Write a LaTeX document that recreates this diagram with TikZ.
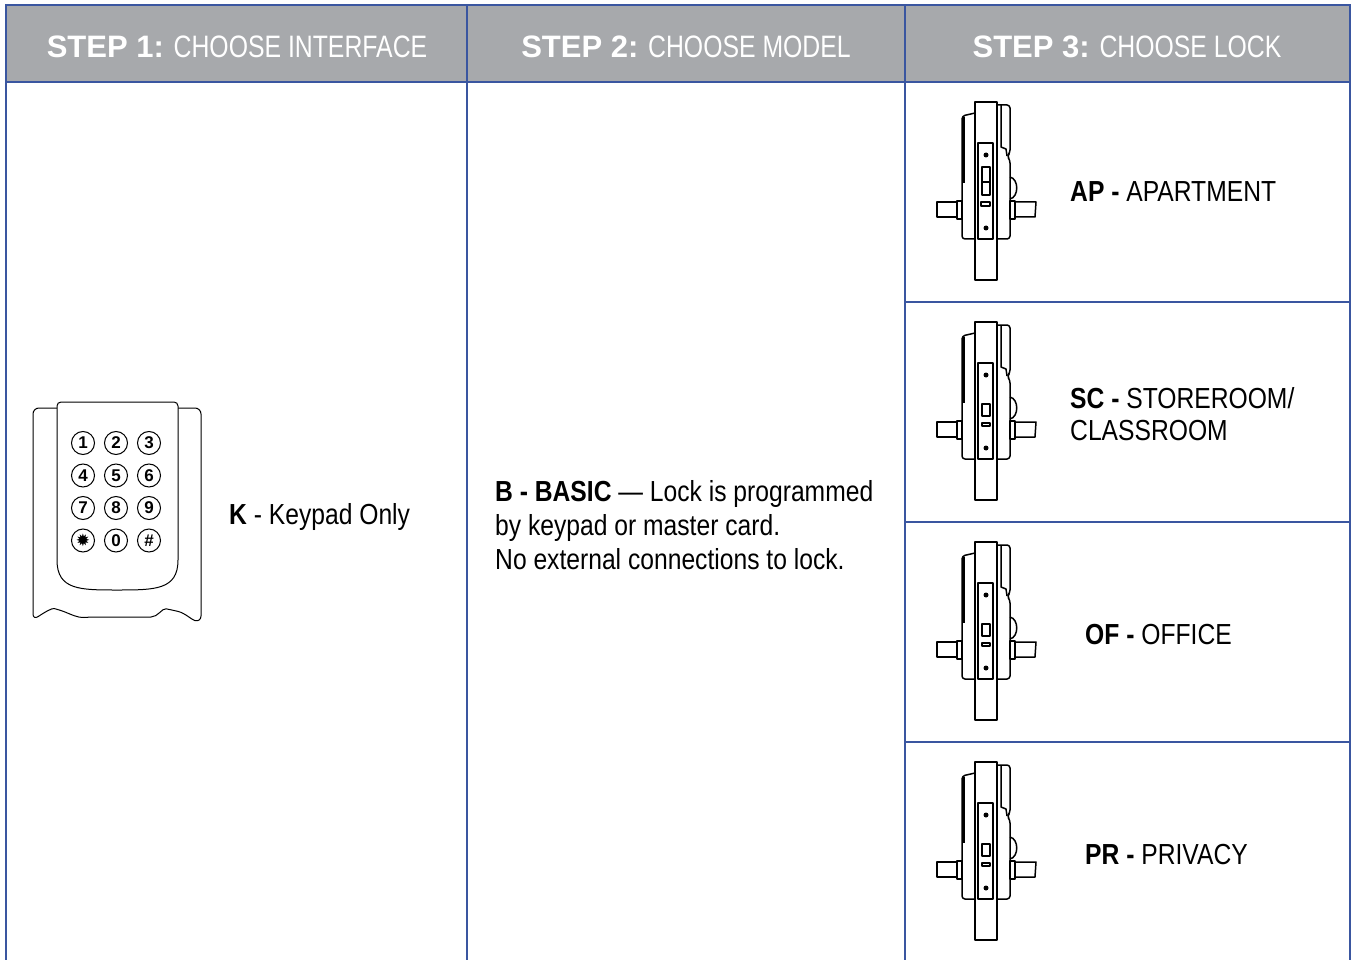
\documentclass[tikz,border=0pt]{standalone}
\usepackage{fontspec}
\setmainfont[FakeStretch=0.85]{Liberation Sans}
\newfontfamily\headfont{Liberation Sans}
\newfontfamily\narrowhead[FakeStretch=0.8]{Liberation Sans}
\newfontfamily\symfont{DejaVu Sans}
\definecolor{gridblue}{HTML}{3A56A0}
\definecolor{headgray}{HTML}{A7A9AC}
\begin{document}
\begin{tikzpicture}[x=1pt, y=-1pt,
    grid/.style = {draw=gridblue, line width=1.5pt},
    head/.style = {anchor=base, text=white, inner sep=0pt, font=\fontsize{31}{34}\selectfont},
    cell/.style = {anchor=base west, inner sep=0pt, align=left, font=\fontsize{29}{34}\selectfont},
    key/.style = {circle, draw, line width=1pt, minimum size=23pt, inner sep=0pt, font=\headfont\bfseries\fontsize{17}{17}\selectfont},
    lockline/.style = {line width=1.5pt, line join=round},
    lock/.pic = {
      \draw[lockline] (-11,-89) rectangle (11,89);
      \draw[lockline] (-8,-48) rectangle (7,48);
      % left housing
      \draw[lockline, rounded corners=3] (-11,-78) -- (-24,-75) -- (-24,48) -- (-11,48);
      \draw[lockline] (-22,-74) -- (-22,-8);
      % right housing
      \draw[lockline, rounded corners=3] (11,-86) -- (24,-86) -- (24,-38) -- (21,-35) -- (24,-31) -- (24,48) -- (11,48);
      \draw[lockline] (15,-86) -- (15,-44) -- (20,-42) -- (21,-35);
      % thumb turn
      \draw[lockline] (24,-14) .. controls (33,-12) and (33,6) .. (24,8);
      % levers
      \draw[lockline] (-24,10) rectangle (-29,28);
      \draw[lockline] (-29,11) rectangle (-49,26);
      \draw[lockline] (24,10) rectangle (29,28);
      \draw[lockline] (29,11) -- (50,11) -- (49,26) -- (29,26);
      \fill (0,-36) circle (2.5) (0,37) circle (2.5);
    },
    lockap/.pic = {
      \pic {lock};
      \draw[lockline] (-4,-24) rectangle (4,-9) (-4,-9) rectangle (4,4);
      \draw[lockline] (-5,11) rectangle (4,15);
    },
    lockstd/.pic = {
      \pic {lock};
      \draw[lockline] (-4,-7) rectangle (4,5);
      \draw[lockline] (-4,12) rectangle (4,15);
    }]
\useasboundingbox (0,0) rectangle (1352,960);

% table
\fill[headgray] (6,5) rectangle (1350,82);
\draw[grid] (6,960) -- (6,5) -- (1350,5) -- (1350,960);
\draw[grid] (6,82) -- (1350,82);
\draw[grid] (467,5) -- (467,960) (905,5) -- (905,960);
\foreach \y in {302,522,742}
  \draw[grid] (905,\y) -- (1350,\y);

\node[head] (step1) at (237,58) {{\headfont\bfseries STEP 1:} {\narrowhead CHOOSE INTERFACE}};
\node[head] (step2) at (686,58) {{\headfont\bfseries STEP 2:} {\narrowhead CHOOSE MODEL}};
\node[head] (step3) at (1127,58) {{\headfont\bfseries STEP 3:} {\narrowhead CHOOSE LOCK}};

% keypad
\draw[line width=1pt, rounded corners=6] (57,408) -- (33,408) -- (33,620) .. controls (45,612) and (52,608) .. (60,610) .. controls (70,614) and (78,618) .. (90,617) -- (145,617) .. controls (158,617) and (162,608) .. (172,610) .. controls (185,613) and (192,620) .. (201,622) -- (201,408) -- (178,408);
\draw[line width=1pt, fill=white] (57,560) -- (57,406) [rounded corners=4] -- (57,402) -- (178,402) [sharp corners] -- (178,560) .. controls (178,590) and (155,590) .. (117,590) .. controls (80,590) and (57,590) .. (57,560) -- cycle;
\foreach \d [count=\i from 0] in {1,2,3,4,5,6,7,8,9,{\symfont ✹},0,\#} {
  \pgfmathtruncatemacro\col{mod(\i,3)}
  \pgfmathtruncatemacro\row{div(\i,3)}
  \node[key] (key\i) at (83+33*\col, 443+32.5*\row) {\d};
}

\node[cell] (keypad) at (229,524) {\textbf{K} - Keypad Only};
\node[cell] (basic) at (495,569) {\textbf{B - BASIC} — Lock is programmed\\by keypad or master card.\\No external connections to lock.};

% locks
\pic at (986,191) {lockap};
\pic at (986,411) {lockstd};
\pic at (986,631) {lockstd};
\pic at (986,851) {lockstd};

\node[cell] (ap) at (1070,202) {\textbf{AP -} APARTMENT};
\node[cell, font=\fontsize{29}{32}\selectfont] (sc) at (1070,440) {\textbf{SC -} STOREROOM/\\CLASSROOM};
\node[cell] (of) at (1085,644) {\textbf{OF -} OFFICE};
\node[cell] (pr) at (1085,864) {\textbf{PR -} PRIVACY};
\end{tikzpicture}
\end{document}
